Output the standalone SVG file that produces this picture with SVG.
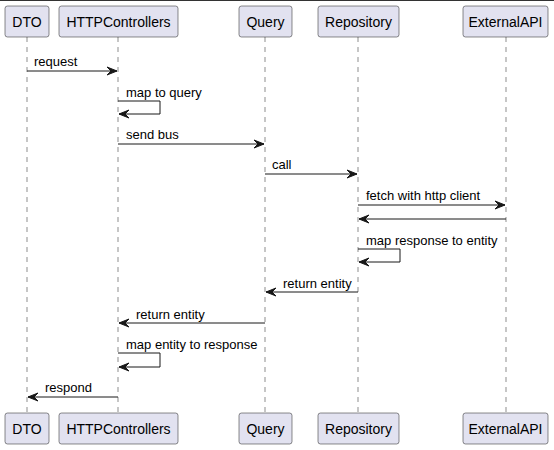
<svg xmlns="http://www.w3.org/2000/svg" width="554" height="450" viewBox="0 0 554 450">
<defs>
<style>
.box{fill:#E2E2F0;stroke:#181818;stroke-width:0.5}
.pt{font-family:"Liberation Sans",Arial,sans-serif;font-size:14px;fill:#000;text-anchor:middle}
.life{stroke:#181818;stroke-width:0.5;stroke-dasharray:5,5;fill:none}
.msg{stroke:#181818;stroke-width:1;fill:none}
.ml{font-family:"Liberation Sans",Arial,sans-serif;font-size:13px;fill:#000}
.ah{fill:#181818;stroke:#181818;stroke-width:1}
</style>
</defs>
<rect x="0" y="0" width="554" height="450" fill="#FFFFFF"/>
<line x1="0" y1="0.5" x2="554" y2="0.5" stroke="#333" stroke-width="1"/>
<g id="lifelines">
<line class="life" x1="27" y1="37" x2="27" y2="413"/>
<line class="life" x1="118" y1="37" x2="118" y2="413"/>
<line class="life" x1="265" y1="37" x2="265" y2="413"/>
<line class="life" x1="358" y1="37" x2="358" y2="413"/>
<line class="life" x1="506" y1="37" x2="506" y2="413"/>
</g>
<g id="DTO">
<rect class="box" x="5" y="6" width="44" height="31" rx="2.5"/>
<text class="pt" x="27" y="26.5">DTO</text>
<rect class="box" x="5" y="413" width="44" height="31" rx="2.5"/>
<text class="pt" x="27" y="433.5">DTO</text>
</g>
<g id="HTTPControllers">
<rect class="box" x="59" y="6" width="119" height="31" rx="2.5"/>
<text class="pt" x="118.5" y="26.5">HTTPControllers</text>
<rect class="box" x="59" y="413" width="119" height="31" rx="2.5"/>
<text class="pt" x="118.5" y="433.5">HTTPControllers</text>
</g>
<g id="Query">
<rect class="box" x="239" y="6" width="53" height="31" rx="2.5"/>
<text class="pt" x="265.5" y="26.5">Query</text>
<rect class="box" x="239" y="413" width="53" height="31" rx="2.5"/>
<text class="pt" x="265.5" y="433.5">Query</text>
</g>
<g id="Repository">
<rect class="box" x="318" y="6" width="81" height="31" rx="2.5"/>
<text class="pt" x="358.5" y="26.5">Repository</text>
<rect class="box" x="318" y="413" width="81" height="31" rx="2.5"/>
<text class="pt" x="358.5" y="433.5">Repository</text>
</g>
<g id="ExternalAPI">
<rect class="box" x="463" y="6" width="85" height="31" rx="2.5"/>
<text class="pt" x="505.5" y="26.5">ExternalAPI</text>
<rect class="box" x="463" y="413" width="85" height="31" rx="2.5"/>
<text class="pt" x="505.5" y="433.5">ExternalAPI</text>
</g>
<g id="connectors">
<line class="msg" x1="27" y1="71" x2="117" y2="71"/>
<polygon class="ah" points="107,67 117,71 107,75 111,71"/>
<text class="ml" x="34" y="66">request</text>

<polyline class="msg" points="118,101 160,101 160,114 119,114"/>
<polygon class="ah" points="129,110 119,114 129,118 125,114"/>
<text class="ml" x="126" y="97">map to query</text>

<line class="msg" x1="118" y1="144" x2="264" y2="144"/>
<polygon class="ah" points="254,140 264,144 254,148 258,144"/>
<text class="ml" x="126" y="139">send bus</text>

<line class="msg" x1="265" y1="174" x2="357" y2="174"/>
<polygon class="ah" points="347,170 357,174 347,178 351,174"/>
<text class="ml" x="272" y="169">call</text>

<line class="msg" x1="358" y1="205" x2="505" y2="205"/>
<polygon class="ah" points="495,201 505,205 495,209 499,205"/>
<text class="ml" x="366" y="200">fetch with http client</text>

<line class="msg" x1="359" y1="219" x2="506" y2="219"/>
<polygon class="ah" points="369,215 359,219 369,223 365,219"/>

<polyline class="msg" points="358,249 400,249 400,262 359,262"/>
<polygon class="ah" points="369,258 359,262 369,266 365,262"/>
<text class="ml" x="366" y="245">map response to entity</text>

<line class="msg" x1="266" y1="292" x2="358" y2="292"/>
<polygon class="ah" points="276,288 266,292 276,296 272,292"/>
<text class="ml" x="283" y="288">return entity</text>

<line class="msg" x1="119" y1="323" x2="265" y2="323"/>
<polygon class="ah" points="129,319 119,323 129,327 125,323"/>
<text class="ml" x="136" y="319">return entity</text>

<polyline class="msg" points="118,353 160,353 160,367 119,367"/>
<polygon class="ah" points="129,363 119,367 129,371 125,367"/>
<text class="ml" x="126" y="349">map entity to response</text>

<line class="msg" x1="28" y1="397" x2="118" y2="397"/>
<polygon class="ah" points="38,393 28,397 38,401 34,397"/>
<text class="ml" x="45" y="392">respond</text>
</g>
</svg>
